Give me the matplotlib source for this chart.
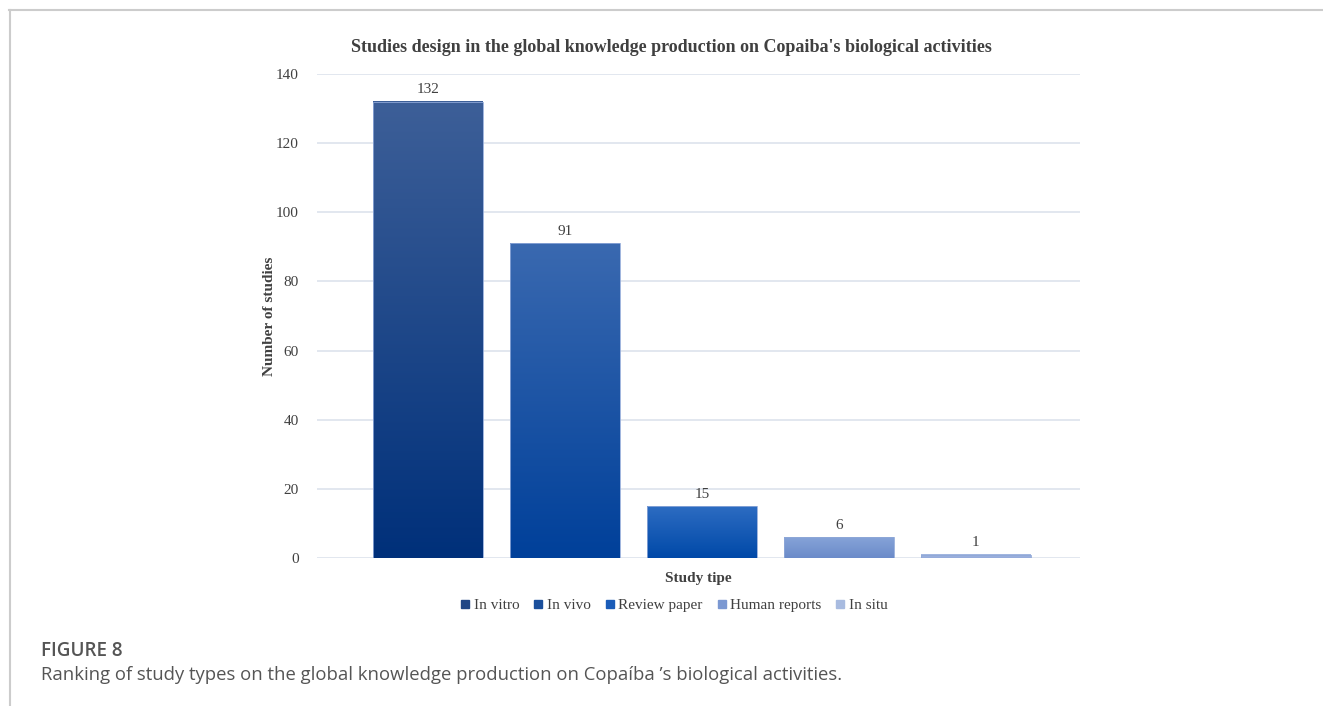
import numpy as np
import matplotlib
matplotlib.use("Agg")
from matplotlib import pyplot as plt
from matplotlib.colors import LinearSegmentedColormap
from matplotlib.lines import Line2D

study_types = ["In vitro", "In vivo", "Review paper", "Human reports", "In situ"]
counts = [132, 91, 15, 6, 1]
top_colors = ["#3d5f98", "#3a69b0", "#2d6cc2", "#86a3d8", "#a4b8e0"]
bottom_colors = ["#00307a", "#00409a", "#0049a8", "#6b8bc9", "#94abdb"]
legend_colors = ["#1f4585", "#1b4f9c", "#1a5cb8", "#7b98d2", "#a8bbe0"]

serif = "Liberation Serif"
plt.rcParams["font.family"] = serif

fig = plt.figure(figsize=(13.23, 7.06), dpi=100)
ax = fig.add_axes([317 / 1323, 1 - 558 / 706, (1080 - 317) / 1323, (558 - 74) / 706])

x = np.arange(len(counts))
bars = ax.bar(x, counts, width=0.8, color="none", edgecolor="#8fa8d8", linewidth=0.6, zorder=3)
for b, top, bot in zip(bars, top_colors, bottom_colors):
    cmap = LinearSegmentedColormap.from_list("g", [bot, top])
    grad = np.linspace(0, 1, 256).reshape(-1, 1)
    x0, y0 = b.get_x(), b.get_y()
    ax.imshow(grad, cmap=cmap, aspect="auto", origin="lower",
              extent=[x0, x0 + b.get_width(), y0, y0 + b.get_height()], zorder=2)
    ax.text(x0 + b.get_width() / 2, b.get_height() + 1.6, str(int(b.get_height())),
            ha="center", va="bottom", fontsize=11, color="#404040")

ax.set_xlim(-0.81, 4.76)
ax.set_ylim(0, 140)
ax.set_yticks(range(0, 141, 20))
ax.yaxis.grid(True, color="#dde3ec", linewidth=1.2, zorder=0)
ax.set_axisbelow(True)
for s in ax.spines.values():
    s.set_visible(False)
ax.tick_params(axis="y", length=0, labelsize=11, labelcolor="#404040", pad=13)
ax.set_xticks([])
ax.set_ylabel("Number of studies", fontsize=11, fontweight="bold", color="#404040", labelpad=0)
ax.set_xlabel("Study tipe", fontsize=11, fontweight="bold", color="#404040", labelpad=10)
fig.text(671 / 1323, 1 - 48 / 706,
         "Studies design in the global knowledge production on Copaiba's biological activities",
         fontsize=13, fontweight="bold", color="#404040", ha="center", va="center")

handles = [Line2D([], [], marker="s", linestyle="none", markersize=5.5, color=c) for c in legend_colors]
fig.legend(handles, study_types, loc="center", bbox_to_anchor=(674 / 1323, 1 - 605 / 706),
           ncol=5, frameon=False, fontsize=11, handlelength=0.6, handletextpad=0.25,
           columnspacing=0.95, labelcolor="#404040")

# page frame lines
fig.add_artist(Line2D([9 / 1323, 1], [1 - 9.5 / 706, 1 - 9.5 / 706], color="#cccccc", linewidth=1.5))
fig.add_artist(Line2D([9.5 / 1323, 9.5 / 1323], [0, 1 - 9.5 / 706], color="#cccccc", linewidth=1.5))

fig.text(41 / 1323, 1 - 651 / 706, "FIGURE 8", fontsize=13.6, color="#555555",
         family="Open Sans", va="center", fontweight="semibold")
fig.text(41 / 1323, 1 - 675 / 706,
         "Ranking of study types on the global knowledge production on Copaíba ’s biological activities.",
         fontsize=13.3, color="#555555", family="Open Sans", va="center")

fig.savefig("out.png", dpi=100)
